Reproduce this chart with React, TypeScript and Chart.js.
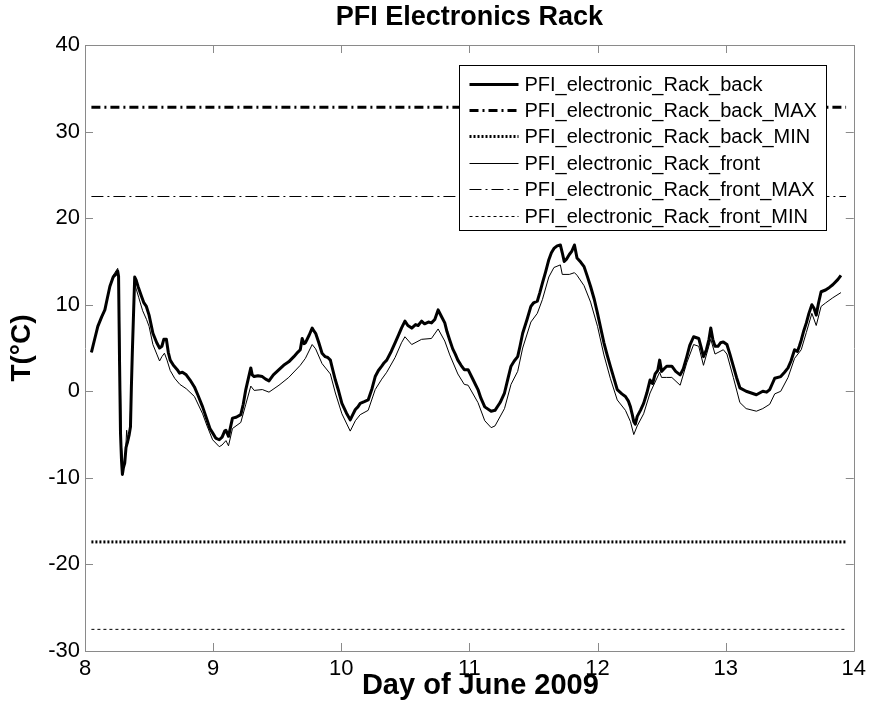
import React, { useEffect, useRef } from "react";
import { Chart, registerables } from "chart.js";

Chart.register(...registerables);

const backDays = [8.05, 8.08, 8.10, 8.13, 8.155, 8.175, 8.194, 8.22, 8.24, 8.255, 8.262, 8.27, 8.277, 8.285, 8.292, 8.30, 8.31, 8.32, 8.336, 8.345, 8.355, 8.362, 8.37, 8.38, 8.388, 8.40, 8.414, 8.44, 8.46, 8.479, 8.50, 8.53, 8.56, 8.582, 8.60, 8.615, 8.635, 8.65, 8.665, 8.69, 8.72, 8.738, 8.76, 8.79, 8.82, 8.854, 8.88, 8.918, 8.95, 8.975, 8.996, 9.02, 9.048, 9.07, 9.09, 9.10, 9.12, 9.135, 9.151, 9.18, 9.216, 9.235, 9.255, 9.275, 9.294, 9.305, 9.32, 9.35, 9.384, 9.41, 9.436, 9.47, 9.514, 9.55, 9.59, 9.63, 9.66, 9.68, 9.695, 9.71, 9.72, 9.75, 9.773, 9.785, 9.80, 9.825, 9.85, 9.875, 9.895, 9.915, 9.935, 9.954, 9.98, 10.005, 10.04, 10.07, 10.09, 10.11, 10.13, 10.148, 10.18, 10.21, 10.24, 10.265, 10.29, 10.316, 10.335, 10.355, 10.39, 10.42, 10.45, 10.47, 10.497, 10.52, 10.55, 10.58, 10.60, 10.627, 10.65, 10.68, 10.704, 10.73, 10.756, 10.78, 10.808, 10.825, 10.847, 10.87, 10.89, 10.91, 10.935, 10.96, 10.99, 11.03, 11.067, 11.09, 11.12, 11.17, 11.2, 11.24, 11.274, 11.30, 11.325, 11.35, 11.377, 11.395, 11.416, 11.45, 11.48, 11.50, 11.53, 11.55, 11.57, 11.595, 11.62, 11.64, 11.66, 11.685, 11.71, 11.725, 11.74, 11.76, 11.78, 11.80, 11.82, 11.84, 11.87, 11.895, 11.92, 11.946, 11.975, 12.0, 12.025, 12.05, 12.075, 12.1, 12.13, 12.154, 12.19, 12.218, 12.24, 12.257, 12.27, 12.283, 12.295, 12.31, 12.335, 12.36, 12.385, 12.41, 12.43, 12.45, 12.47, 12.485, 12.5, 12.52, 12.54, 12.58, 12.61, 12.645, 12.67, 12.697, 12.72, 12.75, 12.79, 12.81, 12.827, 12.85, 12.87, 12.884, 12.90, 12.917, 12.94, 12.96, 12.982, 13.01, 13.035, 13.06, 13.085, 13.111, 13.16, 13.2, 13.24, 13.29, 13.32, 13.344, 13.365, 13.383, 13.43, 13.46, 13.487, 13.51, 13.538, 13.56, 13.575, 13.59, 13.61, 13.63, 13.65, 13.673, 13.69, 13.707, 13.725, 13.745, 13.78, 13.81, 13.836, 13.875, 13.9];
const backTemps = [4.5, 6.3, 7.5, 8.6, 9.4, 10.8, 12.1, 13.2, 13.5, 13.9, 13.3, 3.0, -4.8, -8.0, -9.6, -8.8, -8.3, -6.5, -5.6, -5.0, -4.1, 0.5, 4.8, 9.5, 13.2, 12.8, 12.1, 11.0, 10.2, 9.8, 8.8, 6.7, 5.6, 5.0, 5.2, 6.0, 6.0, 4.5, 3.6, 3.0, 2.5, 2.1, 2.2, 1.9, 1.3, 0.5, -0.4, -1.8, -3.2, -4.3, -4.8, -5.4, -5.6, -5.3, -4.6, -4.5, -5.2, -4.2, -3.1, -3.0, -2.7, -1.5, 0.2, 1.5, 2.7, 1.9, 1.7, 1.8, 1.7, 1.4, 1.2, 1.9, 2.5, 3.0, 3.4, 4.0, 4.5, 4.8, 6.1, 5.5, 5.6, 6.5, 7.3, 7.0, 6.7, 5.6, 4.4, 4.0, 3.9, 3.6, 2.4, 1.3, 0.0, -1.4, -2.5, -3.3, -2.7, -2.1, -1.8, -1.4, -1.2, -1.0, 0.3, 1.7, 2.4, 2.9, 3.3, 3.6, 4.6, 5.6, 6.6, 7.3, 8.1, 7.6, 7.3, 7.7, 7.6, 8.1, 7.8, 8.0, 7.9, 8.3, 9.4, 8.7, 7.9, 6.9, 5.9, 4.9, 4.3, 3.6, 3.0, 2.5, 2.5, 1.3, 0.2, -0.8, -1.8, -2.3, -2.2, -1.3, -0.2, 1.4, 2.9, 3.5, 4.0, 5.2, 6.7, 8.3, 9.8, 10.2, 10.4, 11.4, 12.5, 13.8, 15.2, 16.0, 16.5, 16.8, 16.9, 16.0, 15.0, 15.3, 15.8, 16.2, 16.9, 15.4, 14.9, 14.4, 13.3, 12.1, 10.6, 9.0, 7.3, 5.6, 4.2, 2.9, 1.4, 0.2, -0.3, -0.6, -1.1, -1.8, -2.6, -3.5, -3.8, -2.9, -2.2, -1.4, -0.2, 1.3, 0.9, 2.0, 2.4, 3.6, 2.3, 2.6, 2.9, 2.9, 2.3, 1.9, 2.6, 4.0, 5.3, 6.3, 6.1, 5.0, 4.0, 4.8, 6.0, 7.3, 6.0, 5.2, 5.2, 5.6, 5.7, 5.4, 4.2, 2.9, 1.6, 0.4, 0.0, -0.2, -0.4, 0.0, -0.1, 0.2, 0.9, 1.5, 1.7, 2.2, 2.7, 3.5, 4.8, 4.6, 5.2, 5.9, 7.0, 7.9, 9.0, 10.0, 9.6, 8.8, 10.2, 11.5, 11.7, 12.0, 12.3, 12.9, 13.4];

const frontDays = [8.05, 8.10, 8.155, 8.194, 8.22, 8.255, 8.265, 8.275, 8.285, 8.30, 8.315, 8.325, 8.335, 8.35, 8.36, 8.372, 8.385, 8.40, 8.42, 8.45, 8.48, 8.50, 8.53, 8.56, 8.582, 8.60, 8.62, 8.64, 8.665, 8.70, 8.74, 8.79, 8.854, 8.918, 8.95, 8.996, 9.048, 9.07, 9.10, 9.12, 9.151, 9.216, 9.255, 9.294, 9.32, 9.384, 9.436, 9.514, 9.59, 9.68, 9.72, 9.773, 9.80, 9.85, 9.915, 9.954, 10.005, 10.07, 10.11, 10.148, 10.21, 10.265, 10.316, 10.355, 10.42, 10.47, 10.497, 10.55, 10.627, 10.704, 10.756, 10.808, 10.847, 10.91, 10.96, 10.99, 11.067, 11.12, 11.17, 11.2, 11.274, 11.325, 11.377, 11.416, 11.48, 11.53, 11.57, 11.62, 11.66, 11.71, 11.725, 11.78, 11.82, 11.84, 11.895, 11.946, 12.0, 12.05, 12.1, 12.154, 12.218, 12.257, 12.283, 12.31, 12.36, 12.41, 12.485, 12.5, 12.54, 12.58, 12.645, 12.697, 12.75, 12.79, 12.827, 12.884, 12.917, 12.982, 13.01, 13.06, 13.111, 13.16, 13.24, 13.29, 13.344, 13.383, 13.43, 13.487, 13.538, 13.59, 13.63, 13.673, 13.707, 13.745, 13.78, 13.836, 13.9];
const frontTemps = [4.5, 7.4, 9.3, 12.2, 13.4, 14.2, 13.0, 2.0, -6.5, -8.6, -7.5, -4.5, -6.0, -4.5, 0.0, 5.0, 12.5, 11.8, 10.8, 9.3, 8.3, 7.5, 5.4, 4.3, 3.5, 4.0, 4.4, 3.6, 2.4, 1.5, 0.8, 0.3, -0.6, -2.6, -3.9, -5.6, -6.4, -6.2, -5.7, -6.3, -4.3, -3.6, -1.5, 0.6, 0.1, 0.2, -0.1, 0.7, 1.6, 3.0, 3.8, 5.4, 4.9, 3.2, 2.0, -0.2, -2.6, -4.6, -3.4, -2.7, -2.2, 0.2, 1.4, 2.2, 3.9, 5.6, 6.3, 5.4, 6.0, 6.1, 7.2, 5.8, 4.2, 2.0, 0.8, 0.7, -1.3, -3.4, -4.2, -4.0, -2.0, 0.8, 2.3, 5.0, 8.0, 9.0, 10.6, 13.2, 14.3, 14.6, 13.5, 13.5, 13.7, 13.4, 12.2, 10.3, 7.5, 4.2, 1.5, -1.0, -2.2, -3.5, -5.0, -4.0, -2.6, -0.2, 2.2, 1.6, 1.6, 1.6, 0.7, 3.3, 5.4, 5.2, 3.0, 6.0, 4.3, 4.8, 4.3, 1.6, -1.3, -2.0, -2.3, -2.0, -1.5, -0.3, 0.0, 1.6, 3.8, 4.8, 6.8, 9.0, 7.6, 9.8, 10.2, 10.8, 11.4];

const limitDays = [8.05, 13.94];
const backMax = 32.8;
const backMin = -17.4;
const frontMax = 22.5;
const frontMin = -27.5;

const seriesNames = [
  "PFI_electronic_Rack_back",
  "PFI_electronic_Rack_back_MAX",
  "PFI_electronic_Rack_back_MIN",
  "PFI_electronic_Rack_front",
  "PFI_electronic_Rack_front_MAX",
  "PFI_electronic_Rack_front_MIN",
];

const chartTitle = "PFI Electronics Rack";
const xAxisTitle = "Day of June 2009";
const yAxisTitle = "T(°C)";

const xTickMin = 8;
const xTickMax = 14;
const yTickMin = -30;
const yTickMax = 40;

const FONT = "'Liberation Sans', Arial, Helvetica, sans-serif";

const toPoints = (xs: number[], ys: number[]) => xs.map((x, i) => ({ x, y: ys[i] }));
const flat = (v: number) => limitDays.map((x) => ({ x, y: v }));

const framePlugin = {
  id: "frame",
  afterDatasetsDraw(chart: any) {
    const { ctx, chartArea } = chart;
    const { left, right, top, bottom } = chartArea;
    const xs = chart.scales.x;
    const ys = chart.scales.y;
    ctx.save();
    ctx.strokeStyle = "#8a8a8a";
    ctx.lineWidth = 1;
    ctx.setLineDash([]);
    ctx.beginPath();
    ctx.rect(Math.round(left) + 0.5, Math.round(top) + 0.5, Math.round(right - left), Math.round(bottom - top));
    ctx.stroke();
    const tl = 8;
    ctx.beginPath();
    xs.ticks.forEach((t: any) => {
      const px = Math.round(xs.getPixelForValue(t.value)) + 0.5;
      ctx.moveTo(px, bottom);
      ctx.lineTo(px, bottom - tl);
      ctx.moveTo(px, top);
      ctx.lineTo(px, top + tl);
    });
    ys.ticks.forEach((t: any) => {
      const py = Math.round(ys.getPixelForValue(t.value)) + 0.5;
      ctx.moveTo(left, py);
      ctx.lineTo(left + tl, py);
      ctx.moveTo(right, py);
      ctx.lineTo(right - tl, py);
    });
    ctx.stroke();
    ctx.restore();
  },
};

const xLabelPlugin = {
  id: "xLabel",
  afterDraw(chart: any) {
    const { ctx, chartArea } = chart;
    ctx.save();
    ctx.font = `bold 29px ${FONT}`;
    ctx.fillStyle = "#000";
    ctx.textAlign = "center";
    ctx.textBaseline = "middle";
    ctx.fillText(xAxisTitle, (chartArea.left + chartArea.right) / 2 + 11, chart.height - 25.5);
    ctx.restore();
  },
};

const legendPlugin = {
  id: "boxLegend",
  afterDraw(chart: any) {
    const { ctx, chartArea } = chart;
    const x0 = Math.round(chartArea.right - 395) + 0.5;
    const y0 = Math.round(chartArea.top + 20) + 0.5;
    const w = 367;
    const h = 165;
    ctx.save();
    ctx.fillStyle = "#ffffff";
    ctx.fillRect(x0, y0, w, h);
    ctx.strokeStyle = "#000000";
    ctx.lineWidth = 1;
    ctx.setLineDash([]);
    ctx.strokeRect(x0, y0, w, h);
    ctx.font = `20px ${FONT}`;
    ctx.textBaseline = "middle";
    ctx.textAlign = "left";
    chart.data.datasets.forEach((ds: any, i: number) => {
      const y = Math.round(y0 + 18 + i * 26.4) + 0.5;
      ctx.strokeStyle = ds.borderColor;
      ctx.lineWidth = ds.borderWidth;
      ctx.setLineDash(ds.borderDash || []);
      ctx.beginPath();
      ctx.moveTo(x0 + 10, y);
      ctx.lineTo(x0 + 59, y);
      ctx.stroke();
      ctx.fillStyle = "#000000";
      ctx.fillText(ds.label, x0 + 65, y + 1);
    });
    ctx.restore();
  },
};

export default function App() {
  const ref = useRef<HTMLCanvasElement | null>(null);
  useEffect(() => {
    if (!ref.current) return;
    Chart.defaults.font.family = FONT;
    Chart.defaults.color = "#000";
    const common = { pointRadius: 0, tension: 0, fill: false, borderColor: "#000000" };
    const chart = new Chart(ref.current, {
      type: "line",
      data: {
        datasets: [
          { ...common, label: seriesNames[0], data: toPoints(backDays, backTemps), borderWidth: 3, borderJoinStyle: "round" },
          { ...common, label: seriesNames[1], data: flat(backMax), borderWidth: 3, borderDash: [9, 4, 2, 4] },
          { ...common, label: seriesNames[2], data: flat(backMin), borderWidth: 3, borderDash: [2, 2] },
          { ...common, label: seriesNames[3], data: toPoints(frontDays, frontTemps), borderWidth: 1 },
          { ...common, label: seriesNames[4], data: flat(frontMax), borderWidth: 1, borderDash: [12, 4, 2, 4] },
          { ...common, label: seriesNames[5], data: flat(frontMin), borderWidth: 1, borderDash: [3, 3] },
        ] as any,
      },
      options: {
        animation: false,
        responsive: false,
        layout: { padding: { left: 0, right: 13, top: 0, bottom: 0 } },
        plugins: {
          legend: { display: false },
          tooltip: { enabled: false },
          title: {
            display: true,
            text: chartTitle,
            fullSize: false,
            font: { size: 27, weight: "bold", lineHeight: 1.2 },
            color: "#000",
            padding: { top: 1, bottom: 11.6 },
          },
        },
        scales: {
          x: {
            type: "linear",
            min: xTickMin,
            max: xTickMax,
            grid: { display: false, drawTicks: false },
            border: { display: false },
            ticks: { stepSize: 1, font: { size: 22 }, color: "#000", padding: 5, maxRotation: 0 },
            title: { display: false },
            afterFit: (s: any) => {
              s.height = 60;
            },
          },
          y: {
            type: "linear",
            min: yTickMin,
            max: yTickMax,
            grid: { display: false, drawTicks: false },
            border: { display: false },
            ticks: { stepSize: 10, font: { size: 22 }, color: "#000", padding: 5 },
            title: {
              display: true,
              text: yAxisTitle,
              font: { size: 28, weight: "bold", lineHeight: 1.2 },
              color: "#000",
              padding: { top: 5, bottom: 0 },
            },
            afterFit: (s: any) => {
              s.width = 85;
            },
          },
        },
      } as any,
      plugins: [framePlugin, legendPlugin, xLabelPlugin],
    });
    return () => chart.destroy();
  }, []);
  return (
    <div style={{ position: "absolute", left: 0, top: 0, width: 871, height: 711, background: "#fff" }}>
      <canvas ref={ref} width={871} height={711} style={{ display: "block" }} />
    </div>
  );
}
